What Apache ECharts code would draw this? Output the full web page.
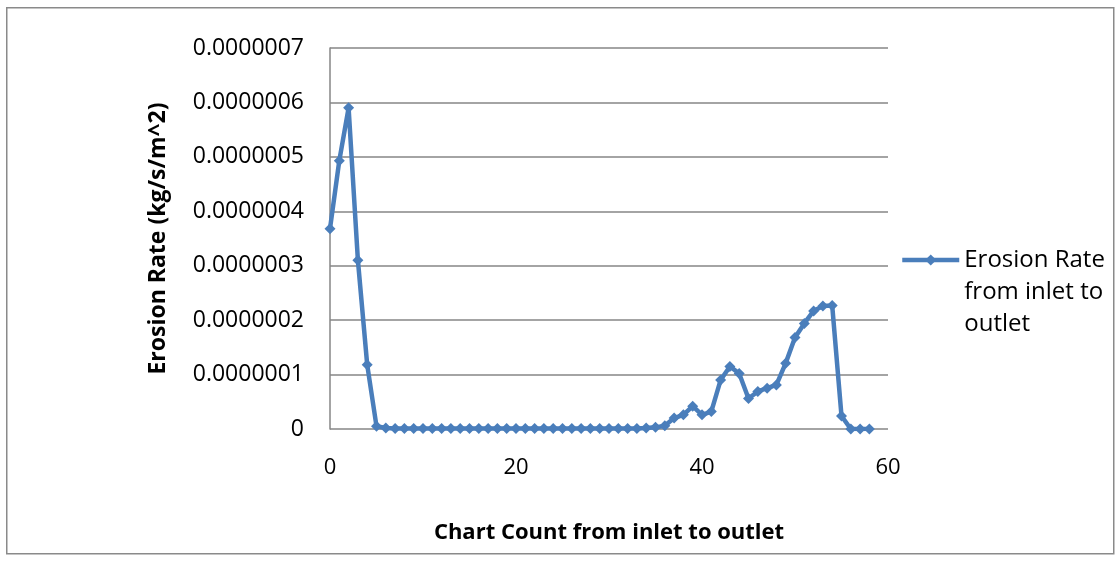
<!DOCTYPE html>
<html>
<head>
<meta charset="utf-8">
<script src="https://cdn.jsdelivr.net/npm/echarts@6/dist/echarts.min.js"></script>
<style>
html,body{margin:0;padding:0;background:#fff;}
#chart{width:1120px;height:562px;}
</style>
</head>
<body>
<div id="chart"></div>
<script>
var seriesName = 'Erosion Rate from inlet to outlet';
var xTitle = 'Chart Count from inlet to outlet';
var yTitle = 'Erosion Rate (kg/s/m^2)';
var chartCount = [0,1,2,3,4,5,6,7,8,9,10,11,12,13,14,15,16,17,18,19,20,21,22,23,24,25,26,27,28,29,30,31,32,33,34,35,36,37,38,39,40,41,42,43,44,45,46,47,48,49,50,51,52,53,54,55,56,57,58];
var erosionRate = [
  0.000000368, 0.000000493, 0.000000590, 0.000000310, 0.000000118, 0.000000005,
  0.000000002, 0.000000001, 0.000000001, 0.000000001, 0.000000001, 0.000000001,
  0.000000001, 0.000000001, 0.000000001, 0.000000001, 0.000000001, 0.000000001,
  0.000000001, 0.000000001, 0.000000001, 0.000000001, 0.000000001, 0.000000001,
  0.000000001, 0.000000001, 0.000000001, 0.000000001, 0.000000001, 0.000000001,
  0.000000001, 0.000000001, 0.000000001, 0.000000001, 0.000000002, 0.000000003,
  0.000000006, 0.000000020, 0.000000026, 0.000000042, 0.000000026, 0.000000032,
  0.000000090, 0.000000115, 0.000000102, 0.000000056, 0.000000069, 0.000000075,
  0.000000081, 0.000000121, 0.000000168, 0.000000194, 0.000000217, 0.000000226,
  0.000000227, 0.000000024, 0.000000000, 0.000000000, 0.000000000
];
var xTicks = [0, 20, 40, 60];
var yTickLabels = ['0','0.0000001','0.0000002','0.0000003','0.0000004','0.0000005','0.0000006','0.0000007'];
var legendLines = ['Erosion Rate', 'from inlet to', 'outlet'];

var pts = chartCount.map(function (x, i) { return [x, erosionRate[i]]; });
var FONT = 'Open Sans';
var GRIDC = '#868686';

var chart = echarts.init(document.getElementById('chart'), null, {renderer: 'canvas'});
chart.setOption({
  backgroundColor: '#fff',
  animation: false,
  graphic: [{
    type: 'rect', left: 6, top: 7, z: -10,
    shape: {width: 1107, height: 546},
    style: {fill: '#fff', stroke: '#8a8a8a', lineWidth: 1.5}
  }],
  grid: {left: 330, right: 232, top: 48, bottom: 133, containLabel: false},
  xAxis: {
    type: 'value', min: xTicks[0], max: xTicks[xTicks.length - 1], interval: 20,
    name: xTitle, nameLocation: 'middle', nameGap: 93,
    nameTextStyle: {fontFamily: FONT, fontWeight: 'bold', fontSize: 22, color: '#000'},
    axisLine: {show: false}, axisTick: {show: false}, splitLine: {show: false},
    axisLabel: {fontFamily: FONT, fontSize: 22, color: '#000', margin: 28}
  },
  yAxis: {
    type: 'value', min: 0, max: 0.0000007, interval: 0.0000001,
    name: yTitle, nameLocation: 'middle', nameGap: 160, nameRotate: 90,
    nameTextStyle: {fontFamily: FONT, fontWeight: 'bold', fontSize: 23, color: '#000'},
    axisLine: {show: true, lineStyle: {color: GRIDC, width: 1.5}},
    axisTick: {show: false},
    splitLine: {show: true, lineStyle: {color: GRIDC, width: 1.5}},
    axisLabel: {
      fontFamily: FONT, fontSize: 23, color: '#000', margin: 26,
      formatter: function (v) { return yTickLabels[Math.round(v / 0.0000001)]; }
    }
  },
  legend: {
    show: true, left: 900, top: 180, padding: 0,
    itemWidth: 57, itemHeight: 14, itemGap: 0,
    lineStyle: {width: 4.5, color: '#4a7ebb'},
    itemStyle: {color: '#4a7ebb'},
    data: [{name: seriesName}],
    formatter: function () { return '\n\n' + legendLines.join('\n'); },
    textStyle: {fontFamily: FONT, fontSize: 24, color: '#000', lineHeight: 32}
  },
  series: [{
    type: 'line', name: seriesName, data: pts,
    symbol: 'diamond', symbolSize: 11, showSymbol: true,
    lineStyle: {color: '#4a7ebb', width: 4.5},
    itemStyle: {color: '#4a7ebb'}
  }]
});
</script>
</body>
</html>
